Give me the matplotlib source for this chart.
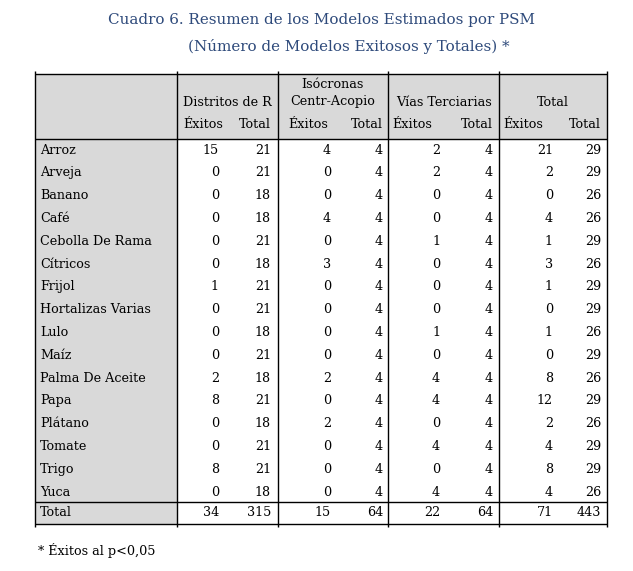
import matplotlib.pyplot as plt
from matplotlib.patches import Rectangle

# datos del cuadro
cultivos = ["Arroz", "Arveja", "Banano", "Café", "Cebolla De Rama", "Cítricos",
            "Frijol", "Hortalizas Varias", "Lulo", "Maíz", "Palma De Aceite",
            "Papa", "Plátano", "Tomate", "Trigo", "Yuca"]
distritos_exitos = [15, 0, 0, 0, 0, 0, 1, 0, 0, 0, 2, 8, 0, 0, 8, 0]
distritos_total = [21, 21, 18, 18, 21, 18, 21, 21, 18, 21, 18, 21, 18, 21, 21, 18]
isocronas_exitos = [4, 0, 0, 4, 0, 3, 0, 0, 0, 0, 2, 0, 2, 0, 0, 0]
isocronas_total = [4] * 16
vias_exitos = [2, 2, 0, 0, 1, 0, 0, 0, 1, 0, 4, 4, 0, 4, 0, 4]
vias_total = [4] * 16
total_exitos = [21, 2, 0, 4, 1, 3, 1, 0, 1, 0, 8, 12, 2, 4, 8, 4]
total_total = [29, 29, 26, 26, 29, 26, 29, 29, 26, 29, 26, 29, 26, 29, 29, 26]
fila_total = [34, 315, 15, 64, 22, 64, 71, 443]

grupos = [["Distritos de R"], ["Isócronas", "Centr-Acopio"], ["Vías Terciarias"], ["Total"]]

titulo = "Cuadro 6. Resumen de los Modelos Estimados por PSM"
subtitulo = "(Número de Modelos Exitosos y Totales) *"
nota = "* Éxitos al p<0,05"

W, H = 633, 571
FONT = "DejaVu Serif"
GRIS = "#D9D9D9"
AZUL = "#2E4A7B"

fig = plt.figure(figsize=(W / 100, H / 100), dpi=100)
ax = fig.add_axes([0, 0, 1, 1])
ax.set_xlim(0, W)
ax.set_ylim(H, 0)
ax.axis("off")

# geometria (pixeles)
x_left, x_lab, x_right = 35, 177, 607
x_div = [278, 388, 499]
y_top, y_head, y_sep, y_bot = 74, 139, 502, 524
row_y0, row_h = 150, 22.8
num_x = [219, 271, 331, 383, 440, 493, 553, 601]
exitos_x = [183, 288, 392, 503]

fs = 9.2

# fondos
ax.add_patch(Rectangle((x_left, y_top), x_right - x_left, y_head - y_top, color=GRIS, lw=0))
ax.add_patch(Rectangle((x_left, y_head), x_lab - x_left, y_bot - y_head, color=GRIS, lw=0))

# lineas
lw = 1.0
for y in [y_top, y_head, y_sep, y_bot]:
    ax.plot([x_left, x_right], [y, y], color="black", lw=lw, solid_capstyle="butt")
for x in [x_left, x_lab] + x_div + [x_right]:
    ax.plot([x, x], [y_top - 3, y_bot + 3], color="black", lw=lw, solid_capstyle="butt")

# titulo
ax.text(322, 20, titulo, ha="center", va="center", fontsize=10.9, color=AZUL, family=FONT)
ax.text(349, 47, subtitulo, ha="center", va="center", fontsize=10.9, color=AZUL, family=FONT)

# encabezados
bounds = [x_lab] + x_div + [x_right]
for i, g in enumerate(grupos):
    cx = (bounds[i] + bounds[i + 1]) / 2
    if len(g) == 2:
        ax.text(cx, 85, g[0], ha="center", va="center", fontsize=fs, family=FONT)
        ax.text(cx, 102, g[1], ha="center", va="center", fontsize=fs, family=FONT)
    else:
        ax.text(cx, 102, g[0], ha="center", va="center", fontsize=fs, family=FONT)
    ax.text(exitos_x[i], 125, "Éxitos", ha="left", va="center", fontsize=fs, family=FONT)
    ax.text(num_x[2 * i + 1], 125, "Total", ha="right", va="center", fontsize=fs, family=FONT)

# filas
columnas = [distritos_exitos, distritos_total, isocronas_exitos, isocronas_total,
            vias_exitos, vias_total, total_exitos, total_total]
for r, nombre in enumerate(cultivos):
    y = row_y0 + r * row_h
    ax.text(40, y, nombre, ha="left", va="center", fontsize=fs, family=FONT)
    for c, col in enumerate(columnas):
        ax.text(num_x[c], y, str(col[r]), ha="right", va="center", fontsize=fs, family=FONT)

y = (y_sep + y_bot) / 2
ax.text(40, y, "Total", ha="left", va="center", fontsize=fs, family=FONT)
for c, v in enumerate(fila_total):
    ax.text(num_x[c], y, str(v), ha="right", va="center", fontsize=fs, family=FONT)

ax.text(38, 551, nota, ha="left", va="center", fontsize=fs, family=FONT)

fig.savefig("out.png", dpi=100)
